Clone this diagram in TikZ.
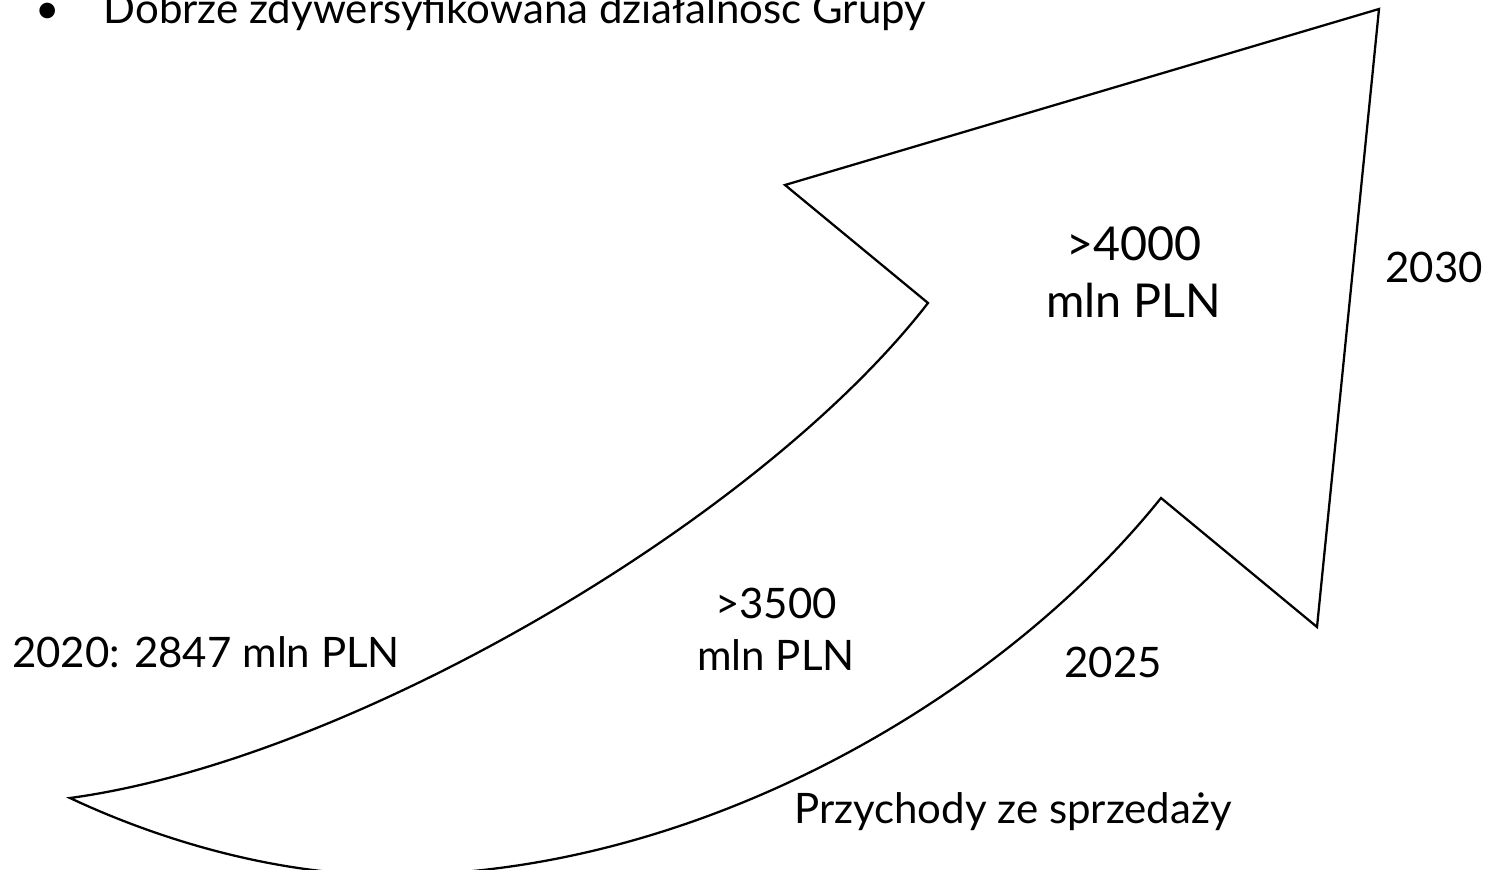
\documentclass[tikz,border=0pt]{standalone}
\usepackage{fontspec}
\setmainfont{Lato}
\usetikzlibrary{positioning}

\tikzset{every picture/.style={line width=0.75pt}}
\tikzset{
  lbl/.style={font=\fontsize{31.5}{39}\selectfont, align=center, inner sep=0pt},
  biglbl/.style={font=\fontsize{35}{43}\selectfont, align=center, inner sep=0pt},
  outline/.style={draw=black, line width=1.7pt, line join=miter}
}

\begin{document}
\begin{tikzpicture}[x=0.75pt,y=0.75pt,yscale=-1,xscale=1]
\clip (0,0) rectangle (1486,870);
\fill[white] (0,0) rectangle (1486,870);

%Points of the arrow
\coordinate (tail) at (70,798);
\coordinate (notchup) at (928,303);
\coordinate (barbup) at (785,185);
\coordinate (tip) at (1379,9);
\coordinate (barbdn) at (1317,627);
\coordinate (notchdn) at (1161,498);
\coordinate (low) at (400,875);

%Shape: Curved Arrow
\draw [outline] (tail) .. controls (350,760) and (760,520) .. (notchup)
  -- (barbup) -- (tip) -- (barbdn) -- (notchdn)
  .. controls (1003,695) and (705,872) .. (low)
  .. controls (290,877) and (170,845) .. (tail) -- cycle ;

%Text Nodes
\node [lbl, anchor=base west] (bullet) at (35,24) {\makebox[51pt][l]{\textbullet}Dobrze zdywersyfikowana działalność Grupy};
\node [lbl] (start) at (206,652) {2020: 2847 mln PLN};
\node [lbl] (mid) at (776,629) {>3500\\mln PLN};
\node [biglbl] (goal) at (1134,272) {>4000\\mln PLN};
\node [lbl] (y2030) at (1434,267) {2030};
\node [lbl] (y2025) at (1113,662) {2025};
\node [lbl] (sales) at (1013,812) {Przychody ze sprzedaży};

\end{tikzpicture}
\end{document}
